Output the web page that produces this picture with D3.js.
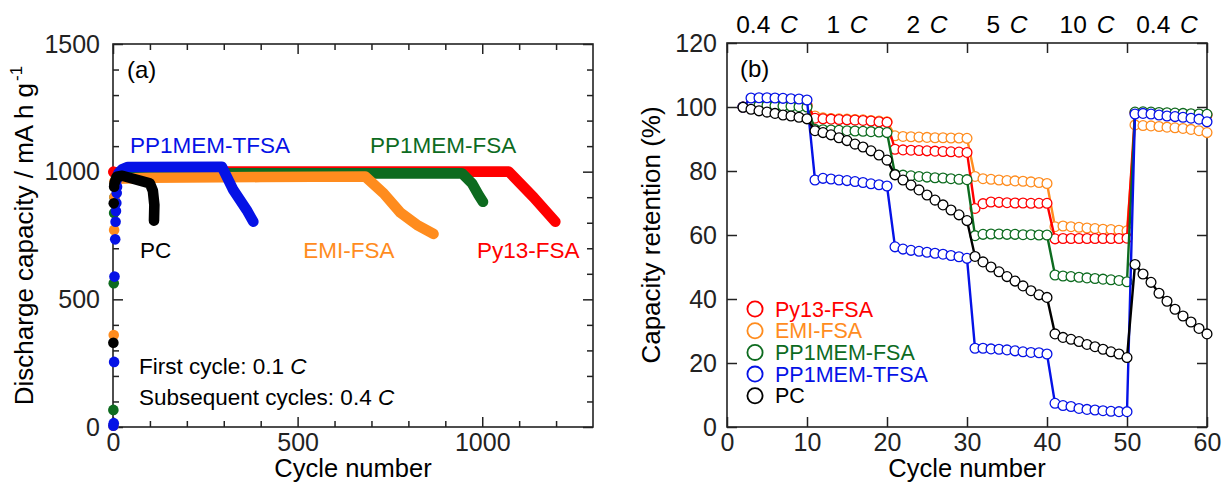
<!DOCTYPE html>
<html>
<head>
<meta charset="utf-8">
<script src="https://cdn.jsdelivr.net/npm/d3@7"></script>
<style>
  html, body { margin: 0; padding: 0; background: #fff; }
  svg { display: block; font-family: "Liberation Sans", Arial, Helvetica, sans-serif; }
</style>
</head>
<body>
<div id="chart"></div>
<script>
// ---------- panel (a): discharge capacity (mA h g-1) vs cycle number ----------
// early scattered points [cycle, capacity]
const py13Dots = [[1, 1000]];
const emiDots = [[1, 5], [2, 360], [3, 772], [4, 900]];
const fsaDots = [[1, 67], [2, 563], [3, 838], [4, 900]];
const tfsaDots = [[1, 5], [2, 15], [3, 255], [4, 589], [6, 735], [7, 804], [8, 846], [9, 877], [10, 916], [11, 941]];
const pcDots = [[1, 330], [2, 876], [3, 941]];

// dense traces drawn as thick bands [cycle, capacity]
const py13Trace = [[2, 997], [30, 1000], [1072, 1000], [1139, 900], [1198, 804]];
const emiTrace = [[4, 962], [10, 972], [100, 976], [400, 979], [683, 981], [733, 915], [778, 840], [823, 792], [868, 756]];
const fsaTrace = [[5, 950], [10, 980], [30, 993], [945, 994], [972, 955], [990, 909], [1002, 882]];
const tfsaTrace = [[11, 970], [15, 995], [25, 1010], [40, 1018], [295, 1019], [326, 928], [362, 850], [380, 804]];
const pcTrace = [[4, 955], [10, 980], [25, 984], [100, 954], [108, 925], [112, 870], [111, 808]];

// ---------- panel (b): capacity retention (%) vs cycle number ----------
const cycles = [2, 3, 4, 5, 6, 7, 8, 9, 10,
  11, 12, 13, 14, 15, 16, 17, 18, 19, 20,
  21, 22, 23, 24, 25, 26, 27, 28, 29, 30,
  31, 32, 33, 34, 35, 36, 37, 38, 39, 40,
  41, 42, 43, 44, 45, 46, 47, 48, 49, 50,
  51, 52, 53, 54, 55, 56, 57, 58, 59, 60];

const py13Ret = [100, 100.9, 101.1, 101.1, 101.0, 100.9, 100.8, 100.7, 100.6,
  96.5, 96.3, 96.2, 96.1, 96.0, 95.9, 95.8, 95.6, 95.4, 95.2,
  86.8, 86.6, 86.5, 86.4, 86.3, 86.2, 86.1, 86.0, 85.9, 85.8,
  68.3, 69.8, 70.3, 70.2, 70.1, 70.0, 70.0, 69.9, 69.9, 69.9,
  58.8, 58.9, 58.9, 58.9, 58.9, 58.9, 58.9, 58.9, 58.9, 59.0,
  98.2, 98.3, 98.2, 98.1, 98.0, 97.9, 97.8, 97.7, 97.6, 97.5];

const emiRet = [100, 100.7, 100.8, 100.8, 100.7, 100.6, 100.5, 100.4, 100.2,
  97.2, 96.6, 96.4, 96.3, 96.2, 96.1, 96.0, 95.8, 95.6, 95.4,
  91.0, 90.8, 90.7, 90.6, 90.5, 90.4, 90.4, 90.3, 90.3, 90.2,
  78.3, 77.6, 77.4, 77.2, 77.0, 76.9, 76.8, 76.6, 76.4, 76.1,
  62.6, 62.8, 62.6, 62.4, 62.2, 62.0, 61.8, 61.7, 61.5, 61.3,
  94.4, 94.2, 94.1, 93.9, 93.7, 93.5, 93.3, 93.0, 92.6, 92.0];

const fsaRet = [100, 100.4, 100.5, 100.5, 100.4, 100.3, 100.2, 100.1, 100.0,
  93.0, 92.9, 92.8, 92.7, 92.6, 92.5, 92.4, 92.3, 92.2, 92.0,
  79.0, 78.7, 78.5, 78.3, 78.1, 77.9, 77.8, 77.6, 77.4, 77.3,
  59.8, 60.2, 60.3, 60.3, 60.2, 60.2, 60.1, 60.1, 60.0, 60.0,
  47.5, 47.2, 47.0, 46.8, 46.6, 46.4, 46.2, 46.0, 45.8, 45.4,
  98.4, 98.5, 98.4, 98.3, 98.2, 98.1, 98.0, 97.9, 97.8, 97.7];

const tfsaRet = [100, 102.8, 102.9, 102.9, 102.8, 102.7, 102.6, 102.5, 102.2,
  77.2, 77.7, 77.5, 77.2, 77.0, 76.7, 76.4, 76.0, 75.7, 75.3,
  56.3, 55.6, 55.2, 54.9, 54.6, 54.3, 54.0, 53.6, 53.2, 52.7,
  24.6, 24.6, 24.4, 24.3, 24.1, 23.8, 23.5, 23.3, 23.2, 22.8,
  7.4, 6.7, 6.4, 5.8, 5.5, 5.3, 5.1, 4.9, 4.8, 4.8,
  97.8, 98.0, 97.8, 97.5, 97.2, 97.0, 96.8, 96.5, 96.2, 95.4];

const pcRet = [99.9, 99.3, 98.8, 98.4, 98.0, 97.5, 97.2, 96.8, 96.3,
  92.6, 92.0, 91.3, 90.4, 89.5, 88.4, 87.5, 86.3, 85.0, 83.4,
  78.8, 77.2, 75.6, 74.1, 72.5, 70.9, 69.4, 67.8, 66.3, 64.5,
  53.3, 51.6, 50.0, 48.5, 47.0, 45.6, 44.1, 42.6, 41.3, 40.5,
  29.1, 28.0, 27.4, 26.7, 25.8, 25.1, 24.3, 23.5, 22.8, 21.7,
  50.8, 47.8, 45.2, 41.8, 39.3, 36.8, 34.7, 32.8, 30.8, 29.1];

const rateLabels = ["0.4", "1", "2", "5", "10", "0.4"];
const rateCenters = [5, 15, 25, 35, 45, 55];

const seriesNames = ["Py13-FSA", "EMI-FSA", "PP1MEM-FSA", "PP1MEM-TFSA", "PC"];
const colors = {
  "Py13-FSA": "#ff0000",
  "EMI-FSA": "#ff8c1e",
  "PP1MEM-FSA": "#0d6b1f",
  "PP1MEM-TFSA": "#0512e6",
  "PC": "#000000"
};

// ---------------------------------------------------------------------------
const width = 1225, height = 488;
const axisColor = "#222";

const svg = d3.select("#chart").append("svg")
  .attr("width", width)
  .attr("height", height);

function frame(g, x, y, o) {
  const [x0, x1] = x.range();
  const [y0, y1] = y.range();
  const fmt = d3.format("d");

  const styleAxis = s => {
    s.select(".domain").remove();
    s.attr("font-size", 25).attr("font-family", null).style("color", axisColor);
    s.selectAll("line").attr("stroke-width", 1.5);
  };

  g.append("g").attr("transform", `translate(0,${y0})`)
    .call(d3.axisBottom(x).tickValues(o.xMajor).tickSize(-10).tickSizeOuter(0).tickPadding(6).tickFormat(fmt))
    .call(styleAxis);
  g.append("g").attr("transform", `translate(0,${y1})`)
    .call(d3.axisTop(x).tickValues(o.xMajor).tickSize(-10).tickSizeOuter(0).tickFormat(""))
    .call(styleAxis);
  g.append("g").attr("transform", `translate(${x0},0)`)
    .call(d3.axisLeft(y).tickValues(o.yMajor).tickSize(-10).tickSizeOuter(0).tickPadding(o.yPad).tickFormat(fmt))
    .call(styleAxis);
  g.append("g").attr("transform", `translate(${x1},0)`)
    .call(d3.axisRight(y).tickValues(o.yMajor).tickSize(-10).tickSizeOuter(0).tickFormat(""))
    .call(styleAxis);

  if (o.xMinor) {
    g.append("g").attr("transform", `translate(0,${y0})`)
      .call(d3.axisBottom(x).tickValues(o.xMinor).tickSize(-6).tickSizeOuter(0).tickFormat(""))
      .call(styleAxis);
    g.append("g").attr("transform", `translate(0,${y1})`)
      .call(d3.axisTop(x).tickValues(o.xMinor).tickSize(-6).tickSizeOuter(0).tickFormat(""))
      .call(styleAxis);
  }
  if (o.yMinor) {
    g.append("g").attr("transform", `translate(${x0},0)`)
      .call(d3.axisLeft(y).tickValues(o.yMinor).tickSize(-6).tickSizeOuter(0).tickFormat(""))
      .call(styleAxis);
    g.append("g").attr("transform", `translate(${x1},0)`)
      .call(d3.axisRight(y).tickValues(o.yMinor).tickSize(-6).tickSizeOuter(0).tickFormat(""))
      .call(styleAxis);
  }

  g.append("rect")
    .attr("x", x0).attr("y", y1)
    .attr("width", x1 - x0).attr("height", y0 - y1)
    .attr("fill", "none")
    .attr("stroke", axisColor)
    .attr("stroke-width", 1.6);

  g.append("text")
    .attr("x", (x0 + x1) / 2).attr("y", 477)
    .attr("text-anchor", "middle")
    .attr("font-size", 25.5)
    .text("Cycle number");
}

// ---------------- panel (a) ----------------
const xa = d3.scaleLinear().domain([0, 1300]).range([113, 593]);
const ya = d3.scaleLinear().domain([0, 1500]).range([427, 44]);

const ga = svg.append("g");
frame(ga, xa, ya, {
  xMajor: [0, 500, 1000],
  xMinor: [100, 200, 300, 400, 600, 700, 800, 900, 1100, 1200],
  yMajor: [0, 500, 1000, 1500],
  yMinor: [100, 200, 300, 400, 600, 700, 800, 900, 1100, 1200, 1300, 1400],
  yPad: 13
});

ga.append("text")
  .attr("transform", `translate(33,${(427 + 44) / 2}) rotate(-90)`)
  .attr("text-anchor", "middle")
  .attr("font-size", 26)
  .call(t => {
    t.append("tspan").text("Discharge capacity / mA h g");
    t.append("tspan").attr("font-size", 17).attr("dy", -11).attr("dx", 2).text("-1");
  });

const bandLine = d3.line().x(d => xa(d[0])).y(d => ya(d[1]));

const panelA = [
  { name: "Py13-FSA", trace: py13Trace, dots: py13Dots },
  { name: "PP1MEM-FSA", trace: fsaTrace, dots: fsaDots },
  { name: "EMI-FSA", trace: emiTrace, dots: emiDots },
  { name: "PP1MEM-TFSA", trace: tfsaTrace, dots: tfsaDots },
  { name: "PC", trace: pcTrace, dots: pcDots }
];

panelA.forEach(s => {
  const c = colors[s.name];
  ga.append("path")
    .datum(s.trace)
    .attr("d", bandLine)
    .attr("fill", "none")
    .attr("stroke", c)
    .attr("stroke-width", 10.6)
    .attr("stroke-linecap", "round")
    .attr("stroke-linejoin", "round");
  ga.selectAll(null)
    .data(s.dots)
    .enter().append("circle")
    .attr("cx", d => xa(d[0]))
    .attr("cy", d => ya(d[1]))
    .attr("r", 5.3)
    .attr("fill", c);
});

ga.append("text").attr("x", 127).attr("y", 78).attr("font-size", 24).text("(a)");

const labelsA = [
  { name: "PP1MEM-TFSA", cyc: 46, cap: 1073 },
  { name: "PP1MEM-FSA", cyc: 696, cap: 1073 },
  { name: "PC", cyc: 73, cap: 661 },
  { name: "EMI-FSA", cyc: 515, cap: 661 },
  { name: "Py13-FSA", cyc: 986, cap: 661 }
];
labelsA.forEach(l => {
  ga.append("text")
    .attr("x", xa(l.cyc)).attr("y", ya(l.cap))
    .attr("font-size", 22.5)
    .attr("fill", colors[l.name])
    .text(l.name);
});

const noteA = [["First cycle: 0.1 ", "C", 374], ["Subsequent cycles: 0.4 ", "C", 405]];
noteA.forEach(n => {
  const t = ga.append("text").attr("x", 139).attr("y", n[2]).attr("font-size", 22.5);
  t.append("tspan").text(n[0]);
  t.append("tspan").attr("font-style", "italic").text(n[1]);
});

// ---------------- panel (b) ----------------
const xb = d3.scaleLinear().domain([0, 60]).range([727, 1207]);
const yb = d3.scaleLinear().domain([0, 120]).range([427, 43]);

const gb = svg.append("g");
frame(gb, xb, yb, {
  xMajor: [0, 10, 20, 30, 40, 50, 60],
  yMajor: [0, 20, 40, 60, 80, 100, 120],
  yPad: 10
});

gb.append("text")
  .attr("transform", `translate(660,${(427 + 43) / 2}) rotate(-90)`)
  .attr("text-anchor", "middle")
  .attr("font-size", 26)
  .text("Capacity retention (%)");

rateLabels.forEach((r, i) => {
  const t = gb.append("text")
    .attr("x", xb(rateCenters[i])).attr("y", 33)
    .attr("text-anchor", "middle")
    .attr("font-size", 24.5);
  t.append("tspan").text(r + " ");
  t.append("tspan").attr("font-style", "italic").attr("dx", 3).text("C");
});

gb.append("text").attr("x", 740).attr("y", 77).attr("font-size", 24).text("(b)");

const panelB = [
  { name: "EMI-FSA", values: emiRet },
  { name: "Py13-FSA", values: py13Ret },
  { name: "PP1MEM-FSA", values: fsaRet },
  { name: "PP1MEM-TFSA", values: tfsaRet },
  { name: "PC", values: pcRet }
];

const retLine = d3.line().x(d => xb(d[0])).y(d => yb(d[1]));

panelB.forEach(s => {
  const c = colors[s.name];
  const pts = cycles.map((cy, i) => [cy, s.values[i]]);
  const g = gb.append("g");
  g.append("path")
    .datum(pts)
    .attr("d", retLine)
    .attr("fill", "none")
    .attr("stroke", c)
    .attr("stroke-width", 2.4);
  g.selectAll("circle")
    .data(pts)
    .enter().append("circle")
    .attr("cx", d => xb(d[0]))
    .attr("cy", d => yb(d[1]))
    .attr("r", 4.9)
    .attr("fill", "#fff")
    .attr("stroke", c)
    .attr("stroke-width", 1.3);
});

// legend
const legend = gb.append("g");
seriesNames.forEach((n, i) => {
  const cy = 309 + i * 21.7;
  legend.append("circle")
    .attr("cx", 755).attr("cy", cy).attr("r", 7.6)
    .attr("fill", "#fff")
    .attr("stroke", colors[n])
    .attr("stroke-width", 1.8);
  legend.append("text")
    .attr("x", 775).attr("y", cy + 7.5)
    .attr("font-size", 21.5)
    .attr("fill", colors[n])
    .text(n);
});
</script>
</body>
</html>
